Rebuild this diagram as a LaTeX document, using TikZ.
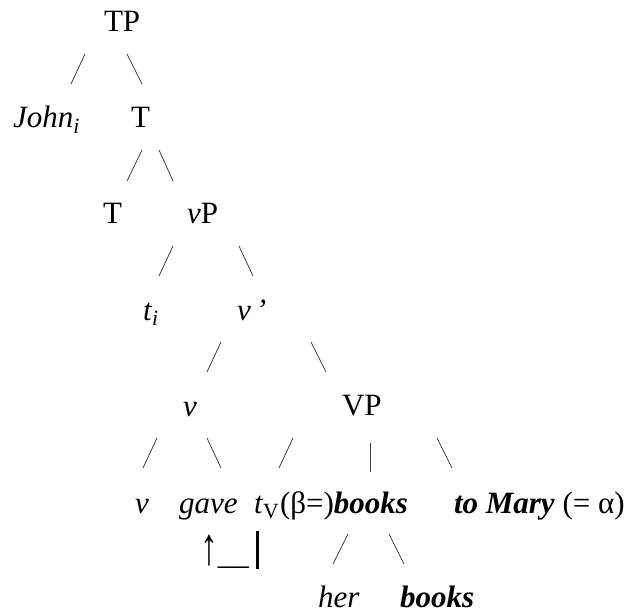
\documentclass[tikz,border=0pt]{standalone}
\usepackage{fontspec}
\setmainfont{Liberation Serif}[
    ItalicFont={Liberation Serif Italic},
    BoldItalicFont={Liberation Serif Bold Italic}]
\usepackage{tikz}
\usetikzlibrary{positioning, calc}

\begin{document}
\begin{tikzpicture}[
    x=1pt, y=-1pt,
    font=\fontsize{31}{36}\selectfont,
    word/.style={anchor=base west, inner sep=0pt, outer sep=0pt},
    branch/.style={line width=0.8pt, draw=black!75}
]
\useasboundingbox (0,0) rectangle (633,615);

% Labels
\node[word] (TP) at (104,32) {TP};
\node[word] (john) at (13,128) {\textit{John}\textsubscript{\textit{i}}};
\node[word] (Tbar) at (131,128) {T};
\node[word] (Thead) at (103,224) {T};
\node[word] (vP) at (187,224) {\textit{v}P};
\node[word] (ti) at (143,320) {\textit{t}\textsubscript{\textit{i}}};
\node[word] (vbar) at (237,320) {\textit{v\,’}};
\node[word] (vhead) at (183,417) {\textit{v}};
\node[word] (VP) at (342,416) {VP};
\node[word] (vlow) at (135,513) {\textit{v}};
\node[word] (gave) at (179,513) {\textit{gave}};
\node[word] (tV) at (254,513) {\textit{t}\textsubscript{V}\,};
\node[word] (books) at (280,513) {(β=)\textbf{\textit{books}}};
\node[word] (mary) at (454,513) {\textbf{\textit{to Mary}} (= α)};
\node[word] (move) at (200,564) {\scalebox{1.15}[1.7]{↑}\_\_\hspace{7pt}\rule[-5pt]{3pt}{38pt}};
\node[word] (her) at (318,607) {\textit{her}};
\node[word] (booksN) at (400,607) {\textbf{\textit{books}}};

% Branches
\draw[branch] ([shift={(-19,22)}]TP.base west) -- ([shift={(58,-44)}]john.base west);
\draw[branch] ([shift={(23,22)}]TP.base west) -- ([shift={(11,-44)}]Tbar.base west);
\draw[branch] ([shift={(11,22)}]Tbar.base west) -- ([shift={(24,-43)}]Thead.base west);
\draw[branch] ([shift={(28,22)}]Tbar.base west) -- ([shift={(-14,-43)}]vP.base west);
\draw[branch] ([shift={(-14,22)}]vP.base west) -- ([shift={(16,-44)}]ti.base west);
\draw[branch] ([shift={(52,22)}]vP.base west) -- ([shift={(16,-44)}]vbar.base west);
\draw[branch] ([shift={(-16,22)}]vbar.base west) -- ([shift={(24,-45)}]vhead.base west);
\draw[branch] ([shift={(74,22)}]vbar.base west) -- ([shift={(-16,-44)}]VP.base west);
\draw[branch] ([shift={(-26,21)}]vhead.base west) -- ([shift={(8,-45)}]vlow.base west);
\draw[branch] ([shift={(24,21)}]vhead.base west) -- ([shift={(42,-45)}]gave.base west);
\draw[branch] ([shift={(-49,22)}]VP.base west) -- ([shift={(25,-45)}]tV.base west);
\draw[branch] ([shift={(28,27)}]VP.base west) -- ([shift={(90,-41)}]books.base west);
\draw[branch] ([shift={(95,22)}]VP.base west) -- ([shift={(-2,-45)}]mary.base west);
\draw[branch] ([shift={(68,21)}]books.base west) -- ([shift={(15,-43)}]her.base west);
\draw[branch] ([shift={(109,21)}]books.base west) -- ([shift={(4,-43)}]booksN.base west);

\end{tikzpicture}
\end{document}
